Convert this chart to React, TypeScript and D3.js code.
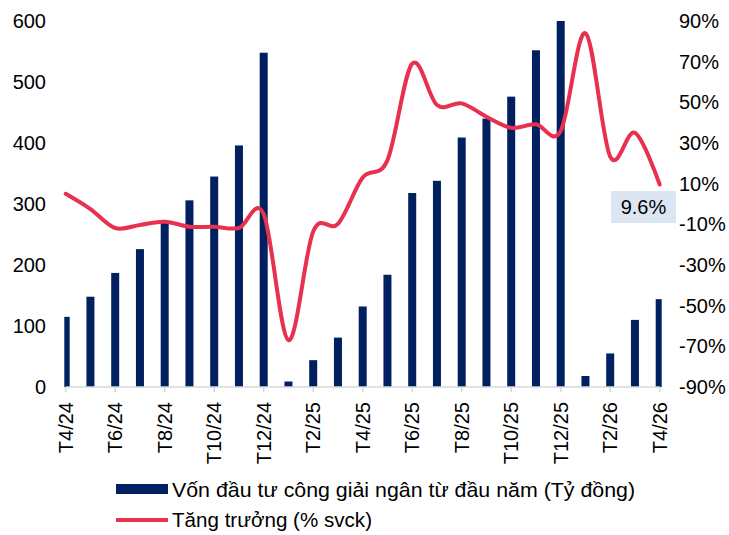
import React from "react";
import * as d3 from "d3";

const months = [
  "T4/24","T5/24","T6/24","T7/24","T8/24","T9/24","T10/24","T11/24","T12/24",
  "T1/25","T2/25","T3/25","T4/25","T5/25","T6/25","T7/25","T8/25","T9/25","T10/25","T11/25","T12/25",
  "T1/26","T2/26","T3/26","T4/26",
];
const disbursed = [115,148,187,226,269,306,345,396,548,9,44,81,132,184,318,338,409,440,476,552,600,18,55,110,144];
const growth = [5,-2.5,-11.8,-10.3,-8.7,-11.2,-11.2,-11.8,-5,-67,-13.5,-9.8,13,21.6,69,48.7,49.5,42.9,37.5,39.2,35.9,84,23.3,35,9.6];
const leftTicks = [0,100,200,300,400,500,600];
const rightTicks = [-90,-70,-50,-30,-10,10,30,50,70,90];
const barLabel = "Vốn đầu tư công giải ngân từ đầu năm (Tỷ đồng)";
const lineLabel = "Tăng trưởng (% svck)";

const W = 729, H = 535;
const FONT = "'Liberation Sans', Arial, sans-serif";
const NAVY = "#002060";
const RED = "#E8304F";

export default function App() {
  const x = d3.scalePoint<string>().domain(months).range([65.7, 659.7]);
  const yL = d3.scaleLinear().domain([0, 600]).range([387, 21]);
  const yR = d3.scaleLinear().domain([-90, 90]).range([387, 21]);
  const bw = 8;
  const line = d3
    .line<number>()
    .x((_, i) => x(months[i]) as number)
    .y((d) => yR(d))
    .curve(d3.curveCardinal.tension(0));
  return (
    <svg width={W} height={H} style={{ position: "absolute", left: 0, top: 0 }} fontFamily={FONT}>
      <defs>
        <clipPath id="plot">
          <rect x={64.3} y={0} width={661.7 - 64.3} height={400} />
        </clipPath>
      </defs>
      <rect width={W} height={H} fill="#fff" />
      <g clipPath="url(#plot)">
        {disbursed.map((v, i) => (
          <rect key={i} x={(x(months[i]) as number) - bw / 2} y={yL(v)} width={bw} height={yL(0) - yL(v)} fill={NAVY} />
        ))}
      </g>
      <line x1={65.7} x2={660} y1={387} y2={387} stroke="#D9D9D9" strokeWidth={1.5} />
      {months.map((m, i) =>
        i % 2 === 0 ? (
          <line key={m} x1={x(m)} x2={x(m)} y1={387} y2={392} stroke="#D9D9D9" strokeWidth={1.5} />
        ) : null
      )}
      <path d={line(growth) || ""} fill="none" stroke={RED} strokeWidth={4} strokeLinejoin="round" strokeLinecap="round" />
      {leftTicks.map((t) => (
        <text key={t} x={46} y={yL(t)} dy="0.35em" textAnchor="end" fontSize={20} fill="#000">{t}</text>
      ))}
      {rightTicks.map((t) => (
        <text key={t} x={679} y={yR(t)} dy="0.35em" textAnchor="start" fontSize={20} fill="#000">{t}%</text>
      ))}
      {months.map((m, i) =>
        i % 2 === 0 ? (
          <text key={m} transform={`translate(${(x(m) as number) + 7},402) rotate(-90)`} textAnchor="end" fontSize={20} fill="#000">{m}</text>
        ) : null
      )}
      <rect x={611} y={191} width={65} height={32} fill="#DCE6F2" />
      <text x={643.5} y={207} dy="0.35em" textAnchor="middle" fontSize={20} fill="#000">
        {growth[growth.length - 1].toFixed(1)}%
      </text>
      <rect x={116} y={484} width={52} height={10} fill={NAVY} />
      <text x={172} y={490} dy="0.35em" fontSize={21} fill="#000" textLength={463} lengthAdjust="spacingAndGlyphs">{barLabel}</text>
      <line x1={116} x2={168} y1={520} y2={520} stroke={RED} strokeWidth={4} />
      <text x={172} y={520} dy="0.35em" fontSize={21} fill="#000" textLength={200} lengthAdjust="spacingAndGlyphs">{lineLabel}</text>
    </svg>
  );
}
